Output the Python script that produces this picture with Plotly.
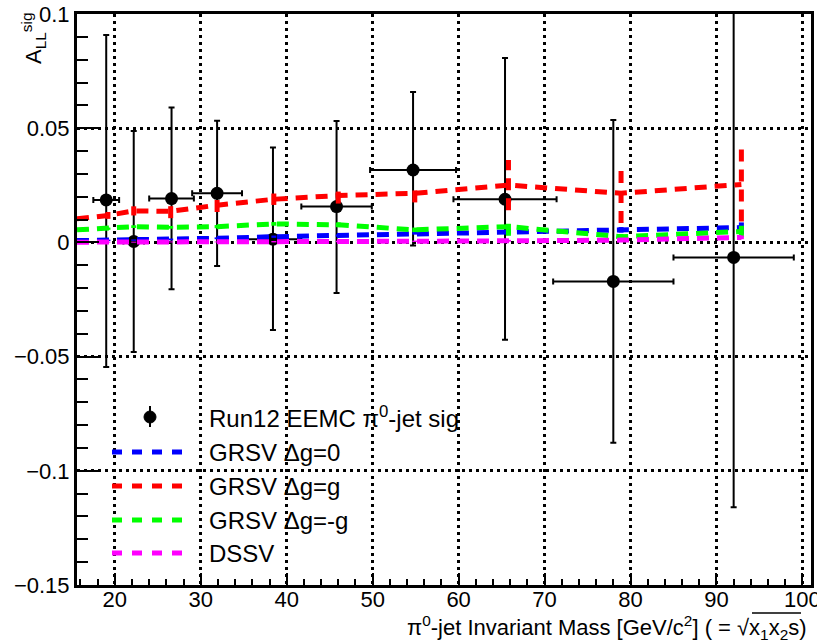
import plotly.graph_objects as go

# ---------------- data ----------------
data_x = [19.0, 22.2, 26.6, 31.9, 38.4, 45.8, 54.7, 65.4, 78.0, 92.0]
data_y = [0.0186, 0.0004, 0.0192, 0.0215, 0.0014, 0.0157, 0.0317, 0.0189, -0.0171, -0.0066]
data_xerr = [1.5, 1.2, 2.6, 2.9, 3.3, 4.1, 5.0, 6.0, 7.0, 7.0]
data_yerr_plus = [0.0722, 0.0484, 0.0399, 0.0318, 0.0401, 0.0374, 0.0341, 0.0618, 0.0707, 0.12]
data_yerr_minus = [0.0731, 0.0484, 0.0397, 0.0318, 0.0397, 0.0379, 0.0331, 0.0615, 0.0706, 0.1094]

theory_x = [15.6, 19.2, 22.2, 26.5, 31.9, 38.5, 46.0, 54.9, 65.8, 78.9, 92.9]
grsv_zero = [0.0008, 0.0009, 0.0010, 0.0013, 0.0018, 0.0025, 0.0030, 0.0040, 0.0047, 0.0055, 0.0065]
grsv_zero_err = [0.0, 0.0003, 0.0003, 0.0004, 0.0004, 0.0005, 0.0005, 0.0006, 0.0010, 0.0012, 0.0030]
grsv_std = [0.0103, 0.0118, 0.0138, 0.0136, 0.0163, 0.0189, 0.0205, 0.0215, 0.0251, 0.0215, 0.0254]
grsv_std_err = [0.0, 0.0015, 0.0020, 0.0030, 0.0030, 0.0025, 0.0035, 0.0040, 0.0110, 0.0130, 0.0162]
grsv_min = [0.0055, 0.0060, 0.0069, 0.0066, 0.0069, 0.0081, 0.0077, 0.0055, 0.0069, 0.0025, 0.0048]
grsv_min_err = [0.0, 0.0005, 0.0006, 0.0006, 0.0007, 0.0008, 0.0010, 0.0010, 0.0040, 0.0012, 0.0025]
dssv = [0.0001, 0.0001, 0.0001, 0.0002, 0.0002, 0.0003, 0.0004, 0.0005, 0.0007, 0.0010, 0.0022]
dssv_err = [0.0, 0.0002, 0.0002, 0.0002, 0.0002, 0.0003, 0.0003, 0.0003, 0.0004, 0.0005, 0.0008]

y_tickvals = [-0.15, -0.1, -0.05, 0, 0.05, 0.1]
y_ticktext = ["\u22120.15", "\u22120.1", "\u22120.05", "0", "0.05", "0.1"]
x_tickvals = [20, 30, 40, 50, 60, 70, 80, 90, 100]

legend_labels = ["Run12 EEMC \u03c0<sup>0</sup>-jet sig", "GRSV \u0394g=0", "GRSV \u0394g=g",
                 "GRSV \u0394g=-g", "DSSV"]
theory_colors = ["#0000ff", "#ff0000", "#00ff00", "#ff00ff"]

FONT = "Liberation Sans, Arial, Helvetica, sans-serif"
DASH = "12px,8px"

fig = go.Figure()

# data points with errors
fig.add_trace(go.Scatter(
    x=data_x, y=data_y, mode="markers",
    marker=dict(color="black", size=13, symbol="circle"),
    error_x=dict(type="data", array=data_xerr, color="black", thickness=2, width=3),
    error_y=dict(type="data", array=data_yerr_plus, arrayminus=data_yerr_minus,
                 color="black", thickness=2, width=3),
    showlegend=False, cliponaxis=True,
))

theories = [(grsv_zero, grsv_zero_err), (grsv_std, grsv_std_err),
            (grsv_min, grsv_min_err), (dssv, dssv_err)]

for (vals, errs), col in zip(theories, theory_colors):
    fig.add_trace(go.Scatter(
        x=theory_x, y=vals, mode="lines",
        line=dict(color=col, width=5, dash=DASH),
        showlegend=False,
    ))
    ex, ey = [], []
    for xv, v, e in zip(theory_x, vals, errs):
        if e > 0:
            ex += [xv, xv, None]
            ey += [v - e, v + e, None]
    fig.add_trace(go.Scatter(
        x=ex, y=ey, mode="lines",
        line=dict(color=col, width=5, dash=DASH),
        showlegend=False,
    ))

# ---------------- manual legend ----------------
L, R, T, B = 77, 6, 14, 55
W, H = 817, 640
pw, ph = W - L - R, H - T - B

def px2paper_x(px):
    return (px - L) / pw

def px2paper_y(py):
    return (H - B - py) / ph

row_y = [417, 452, 486, 520, 553]
shapes = []
annotations = []
shapes.append(dict(type="line", xref="paper", yref="paper",
                   x0=px2paper_x(150), x1=px2paper_x(150),
                   y0=px2paper_y(406), y1=px2paper_y(427),
                   line=dict(color="black", width=2)))
shapes.append(dict(type="circle", xref="paper", yref="paper",
                   xsizemode="pixel", ysizemode="pixel",
                   xanchor=px2paper_x(150), yanchor=px2paper_y(row_y[0]),
                   x0=-6, x1=6, y0=-6, y1=6,
                   fillcolor="black", line=dict(color="black", width=1)))
for i, col in enumerate(theory_colors):
    yy = px2paper_y(row_y[i + 1])
    shapes.append(dict(type="line", xref="paper", yref="paper",
                       x0=px2paper_x(112), x1=px2paper_x(183), y0=yy, y1=yy,
                       line=dict(color=col, width=5, dash="10px,10px")))
for i, lab in enumerate(legend_labels):
    annotations.append(dict(text=lab, xref="paper", yref="paper",
                            x=px2paper_x(207), y=px2paper_y(row_y[i]),
                            xanchor="left", yanchor="middle", showarrow=False,
                            font=dict(family=FONT, size=24, color="black")))

# axis titles
annotations.append(dict(
    text="A<sub>LL</sub><sup>sig</sup>", xref="paper", yref="paper",
    x=px2paper_x(33), y=px2paper_y(10), xanchor="center", yanchor="top",
    textangle=-90, showarrow=False, font=dict(family=FONT, size=22, color="black")))
annotations.append(dict(
    text="\u03c0<sup>0</sup>-jet Invariant Mass [GeV/c<sup>2</sup>] ( = \u221a"
         "x<sub>1</sub>x<sub>2</sub>s)",
    xref="paper", yref="paper",
    x=px2paper_x(809), y=px2paper_y(627), xanchor="right", yanchor="middle",
    showarrow=False, font=dict(family=FONT, size=22, color="black")))
# overline of the square root
shapes.append(dict(type="line", xref="paper", yref="paper",
                   x0=px2paper_x(752), x1=px2paper_x(801),
                   y0=px2paper_y(613), y1=px2paper_y(613),
                   line=dict(color="black", width=1.5)))

fig.update_layout(
    width=W, height=H,
    margin=dict(l=L, r=R, t=T, b=B, pad=0, autoexpand=False),
    paper_bgcolor="white", plot_bgcolor="white",
    font=dict(family=FONT, size=22, color="black"),
    shapes=shapes, annotations=annotations,
    showlegend=False,
)

fig.update_xaxes(
    range=[15.6, 101.0], tickvals=x_tickvals,
    ticks="inside", ticklen=12, tickwidth=2, tickcolor="black",
    minor=dict(ticks="inside", ticklen=6, tickwidth=2, tickcolor="black", dtick=2,
               tick0=0, showgrid=False),
    showline=True, linecolor="black", linewidth=3, mirror=True,
    showgrid=True, gridcolor="black", gridwidth=2.5, griddash="3px,4px",
    zeroline=False, tickfont=dict(family=FONT, size=22, color="black"),
    ticklabeloverflow="allow", ticklabelstandoff=-7, automargin=False,
)
fig.update_yaxes(
    range=[-0.15, 0.1], tickvals=y_tickvals, ticktext=y_ticktext,
    ticks="inside", ticklen=22, tickwidth=2, tickcolor="black",
    minor=dict(ticks="inside", ticklen=11, tickwidth=2, tickcolor="black", dtick=0.01,
               tick0=0, showgrid=False),
    showline=True, linecolor="black", linewidth=3, mirror=True,
    showgrid=True, gridcolor="black", gridwidth=2.5, griddash="3px,4px",
    zeroline=False, tickfont=dict(family=FONT, size=22, color="black"),
    ticklabeloverflow="allow", automargin=False,
)

fig.write_html("out.html")
